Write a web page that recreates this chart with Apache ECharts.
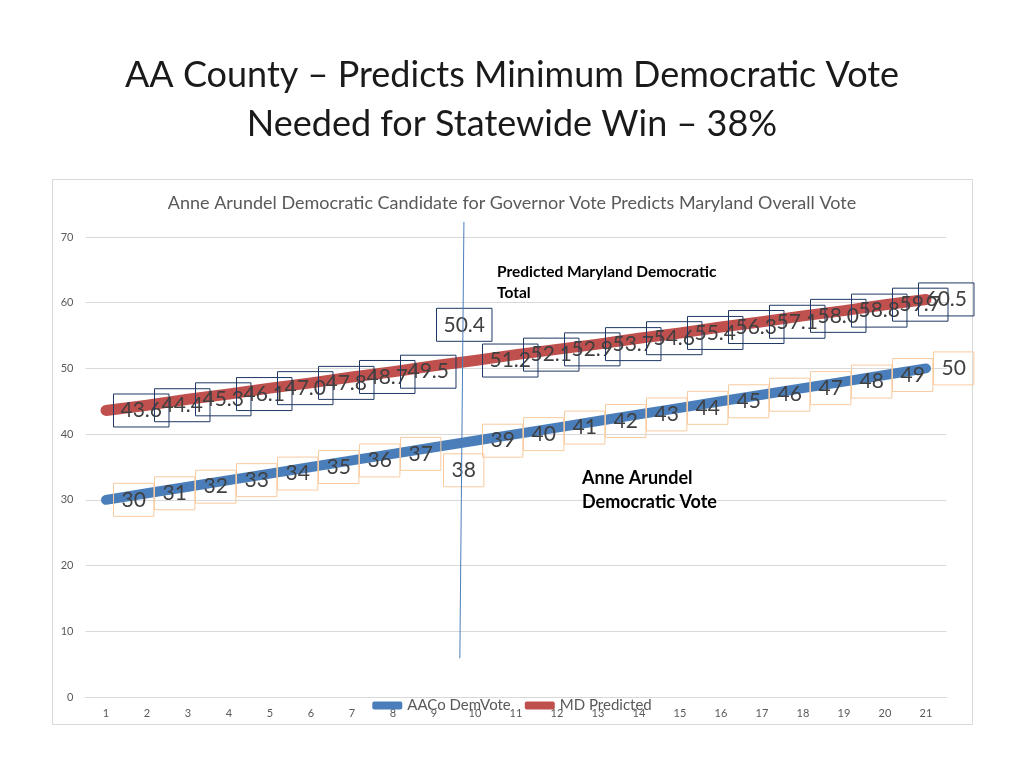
<!DOCTYPE html>
<html><head><meta charset="utf-8">
<script src="https://cdn.jsdelivr.net/npm/echarts@6/dist/echarts.min.js"></script>
<style>html,body{margin:0;padding:0;background:#fff}#c{width:1024px;height:768px}</style>
</head><body><div id="c"></div>
<script>
const categories = ['1','2','3','4','5','6','7','8','9','10','11','12','13','14','15','16','17','18','19','20','21'];
const aacoDemVote = [30,31,32,33,34,35,36,37,38,39,40,41,42,43,44,45,46,47,48,49,50];
const mdPredicted = [43.6,44.4,45.3,46.1,47.0,47.8,48.7,49.5,50.4,51.2,52.1,52.9,53.7,54.6,55.4,56.3,57.1,58.0,58.8,59.7,60.5];
const yTicks = [0,10,20,30,40,50,60,70];

const FONT = 'Lato, "Open Sans", sans-serif';
const chart = echarts.init(document.getElementById('c'));

const labelBase = {show:true, position:'right', distance:7, fontSize:21, fontFamily:FONT, color:'#404040', borderWidth:1, padding:[7,7,5,7]};
const mdData = mdPredicted.map((v,i)=>{
  const o = {value:v};
  if(i===8) o.label = {offset:[-5,-41]};
  if(i===20) o.label = {offset:[-15,0]};
  return o;
});
const aaData = aacoDemVote.map((v,i)=>{
  const o = {value:v};
  if(i===8) o.label = {offset:[2,23]};
  return o;
});

chart.setOption({
  animation:false,
  backgroundColor:'#fff',
  title:[
    {text:'AA County – Predicts Minimum Democratic Vote', left:'center', top:52,
     textStyle:{fontFamily:FONT, fontSize:36, fontWeight:'normal', color:'#1a1a1a'}},
    {text:'Needed for Statewide Win – 38%', left:'center', top:101,
     textStyle:{fontFamily:FONT, fontSize:36, fontWeight:'normal', color:'#1a1a1a'}},
    {text:'Anne Arundel Democratic Candidate for Governor Vote Predicts Maryland Overall Vote', left:'center', top:189,
     textStyle:{fontFamily:FONT, fontSize:18, fontWeight:'normal', color:'#595959'}}
  ],
  legend:{bottom:50, left:'center', itemWidth:30, itemHeight:8, itemGap:14, icon:'roundRect',
    textStyle:{fontFamily:FONT, fontSize:15, color:'#595959'},
    data:['AACo DemVote','MD Predicted']},
  grid:{left:85.5, right:77.5, top:237, bottom:71},
  xAxis:{type:'category', data:categories, boundaryGap:true,
    axisLine:{lineStyle:{color:'#d9d9d9'}}, axisTick:{show:false},
    axisLabel:{fontFamily:FONT, fontSize:11, color:'#595959', margin:11}},
  yAxis:{type:'value', min:0, max:70, interval:10,
    axisLine:{show:false}, axisTick:{show:false},
    splitLine:{lineStyle:{color:'#d9d9d9'}},
    axisLabel:{fontFamily:FONT, fontSize:11, color:'#595959', margin:12,
      formatter:v=>yTicks.includes(v)?String(v):''}},
  series:[
    {name:'AACo DemVote', type:'line', data:aaData, symbol:'circle', symbolSize:1, showSymbol:true,
     color:'#4a7ebb', lineStyle:{width:10, color:'#4a7ebb', cap:'round', join:'round'}, itemStyle:{color:'#4a7ebb'},
     label:Object.assign({}, labelBase, {borderColor:'#f8cba0', padding:[7,8,5,8]}), z:2},
    {name:'MD Predicted', type:'line', data:mdData, symbol:'circle', symbolSize:1, showSymbol:true,
     color:'#c0504d', lineStyle:{width:11, color:'#c0504d', cap:'round', join:'round'}, itemStyle:{color:'#c0504d'},
     label:Object.assign({}, labelBase, {borderColor:'#1f3864', formatter:p=>Number(p.value).toFixed(1)}), z:3}
  ]
});

function px(ci, y){
  const a = chart.convertToPixel({xAxisIndex:0}, Math.floor(ci));
  const b = chart.convertToPixel({xAxisIndex:0}, Math.floor(ci)+1);
  const x = a + (b-a)*(ci-Math.floor(ci));
  const yy = chart.convertToPixel({yAxisIndex:0}, y);
  return [x, yy];
}
const p1 = px(8.73, 72.3), p2 = px(8.63, 5.9);
chart.setOption({graphic:[
  {type:'rect', shape:{x:52.5, y:179.5, width:920, height:545}, style:{fill:null, stroke:'#d9d9d9', lineWidth:1}, silent:true, z:-1},
  {type:'line', shape:{x1:p1[0], y1:p1[1], x2:p2[0], y2:p2[1]}, style:{stroke:'#4a7ebb', lineWidth:1}, z:10},
  {type:'text', left:497, top:261, style:{text:'Predicted Maryland Democratic\nTotal', fontFamily:FONT, fontSize:15.5, fontWeight:'bold', fill:'#000', lineHeight:21}, z:10},
  {type:'text', left:582, top:466, style:{text:'Anne Arundel\nDemocratic Vote', fontFamily:FONT, fontSize:18, fontWeight:'bold', fill:'#000', lineHeight:24}, z:10}
]});
</script></body></html>
